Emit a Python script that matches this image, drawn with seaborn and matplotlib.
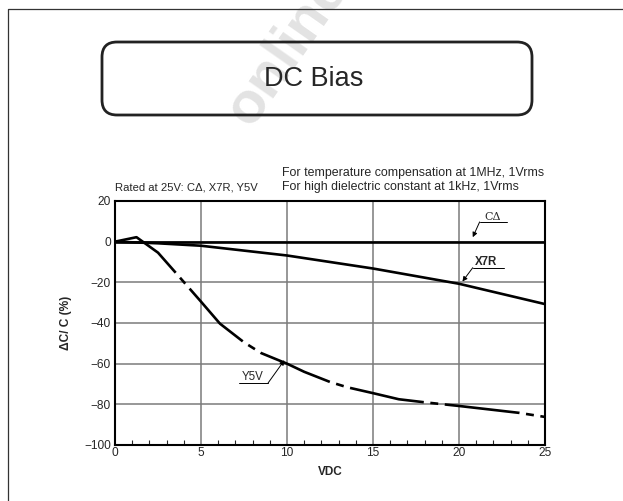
import matplotlib
matplotlib.use("Agg")
import matplotlib.pyplot as plt
import matplotlib.lines as mlines
from matplotlib.patches import FancyBboxPatch
from matplotlib.transforms import IdentityTransform
from matplotlib.ticker import MultipleLocator
import seaborn as sns

# data
cd_vdc = [0, 25]
cd_pct = [0, 0]

x7r_vdc = [0, 2.5, 5, 10, 15, 20, 25]
x7r_pct = [0, -0.8, -2, -6.8, -13.2, -20.7, -30.7]

y5v_vdc = [0, 1.25, 2.5, 3.5, 5, 6.1, 7.5, 8.5, 10, 11, 12.5, 13.5, 15, 16.5, 18, 20, 23.5, 25]
y5v_pct = [0, 2.2, -5.4, -15, -29.5, -40.3, -49.5, -54.8, -60, -64, -69, -71.6, -74.5, -77.5,
           -79, -80.8, -84.2, -86.2]

sns.set_style("white")
plt.rcParams['font.family'] = ['Liberation Sans', 'DejaVu Sans']

W, H = 623, 501
fig = plt.figure(figsize=(W / 100, H / 100), dpi=100)

# outer page frame (left and top edges)
fig.add_artist(mlines.Line2D([8.3, 8.3, W], [0, H - 9.3, H - 9.3],
                             color="#333333", lw=0.9, transform=IdentityTransform()))

# watermark
fig.text(250 / W, 1 - 128 / H, "online", fontsize=42, fontweight="bold",
         color="#e3e3e3", rotation=55, rotation_mode="anchor", ha="left", va="baseline", zorder=0)

# title box
box = FancyBboxPatch((102, H - 115), 430, 73, boxstyle="round,pad=0,rounding_size=15",
                     fill=False, ec="#222222", lw=2.0, transform=IdentityTransform())
fig.add_artist(box)
fig.text(314 / W, 1 - 78.5 / H, "DC Bias", fontsize=19.5, ha="center", va="center")

ax = fig.add_axes([115 / W, (H - 445) / H, 430 / W, 244 / H])

sns.lineplot(x=cd_vdc, y=cd_pct, ax=ax, color="black", lw=1.9, zorder=3)
sns.lineplot(x=x7r_vdc, y=x7r_pct, ax=ax, color="black", lw=1.9, zorder=3)
sns.lineplot(x=y5v_vdc, y=y5v_pct, ax=ax, color="black", lw=1.9, sort=False,
             linestyle=(0, (28.5, 2.5, 3, 2.5)), zorder=3)

ax.set_xlim(0, 25)
ax.set_ylim(-100, 20)
ax.xaxis.set_major_locator(MultipleLocator(5))
ax.xaxis.set_minor_locator(MultipleLocator(1))
ax.yaxis.set_major_locator(MultipleLocator(20))
ax.grid(True, which="major", color="#7a7a7a", lw=1.1)
ax.set_axisbelow(True)
ax.tick_params(axis="both", which="major", length=0, labelsize=8.6, pad=3)
ax.tick_params(axis="x", which="minor", direction="in", length=3.8, width=0.8, bottom=True)
ax.tick_params(axis="x", which="major", pad=1.5)
for sp in ax.spines.values():
    sp.set_visible(True)
    sp.set_color("black")
    sp.set_linewidth(1.5)

ax.set_xlabel("VDC", fontsize=8.5, fontweight="bold", labelpad=5)
ax.set_ylabel("\u0394C/ C (%)", fontsize=8.6, fontweight="bold", labelpad=9)

# header notes
fig.text(115 / W, 1 - 187 / H, "Rated at 25V: C\u0394, X7R, Y5V", fontsize=8.1, va="center")
fig.text(282 / W, 1 - 173 / H, "For temperature compensation at 1MHz, 1Vrms", fontsize=8.9, va="center")
fig.text(282 / W, 1 - 187 / H, "For high dielectric constant at 1kHz, 1Vrms", fontsize=8.9, va="center")

# curve labels with leaders
arrow = dict(arrowstyle="-|>", color="black", lw=0.7, mutation_scale=7, shrinkA=0, shrinkB=0)

ax.text(21.95, 12.2, "C\u0394", fontsize=8, ha="center", va="center", family=["DejaVu Serif"])
ax.plot([21.2, 22.8], [9.7, 9.7], color="black", lw=0.7)
ax.annotate("", xy=(20.8, 2.2), xytext=(21.2, 9.7), arrowprops=arrow)

ax.text(21.55, -10.0, "X7R", fontsize=8.3, fontweight="bold", ha="center", va="center")
ax.plot([20.8, 22.6], [-12.8, -12.8], color="black", lw=0.7)
ax.annotate("", xy=(20.2, -19.6), xytext=(20.8, -12.8), arrowprops=arrow)

ax.text(8.0, -66.4, "Y5V", fontsize=8.3, ha="center", va="center")
ax.plot([7.2, 8.9], [-69.5, -69.5], color="black", lw=0.7)
ax.annotate("", xy=(9.85, -58.3), xytext=(8.9, -69.5), arrowprops=arrow)

fig.savefig("out.png", dpi=100)
plt.close(fig)
